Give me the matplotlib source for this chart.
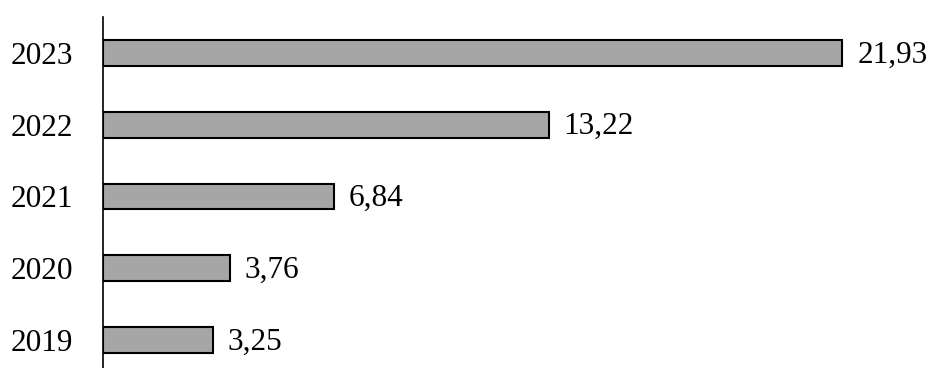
import matplotlib
matplotlib.use('Agg')
import matplotlib.pyplot as plt

years = ['2019', '2020', '2021', '2022', '2023']
values = [3.25, 3.76, 6.84, 13.22, 21.93]
value_labels = ['3,25', '3,76', '6,84', '13,22', '21,93']

plt.rcParams['font.family'] = ['Liberation Serif', 'DejaVu Serif']

fig = plt.figure(figsize=(9.31, 3.68), dpi=100)
ax = fig.add_axes([103 / 931, 0, 1 - 103 / 931, 1 - 17 / 368])

pos = list(range(len(years)))
ax.barh(pos, values, height=0.36, color='#a6a6a6', edgecolor='black', linewidth=1.5)

for p, v, lab in zip(pos, values, value_labels):
    ax.text(v + 0.45, p - 0.03, lab, va='center', ha='left', fontsize=22.5)

ax.set_yticks(pos)
ax.set_yticklabels(years, fontsize=22.5)
ax.tick_params(axis='y', length=0, pad=21.5)
ax.set_xticks([])
ax.set_xlim(0, (931 - 103) / 33.7)
ax.set_ylim(-0.39, 4.5)

for s in ['top', 'right', 'bottom']:
    ax.spines[s].set_visible(False)
ax.spines['left'].set_linewidth(1.2)

fig.savefig('out.png', dpi=100)
